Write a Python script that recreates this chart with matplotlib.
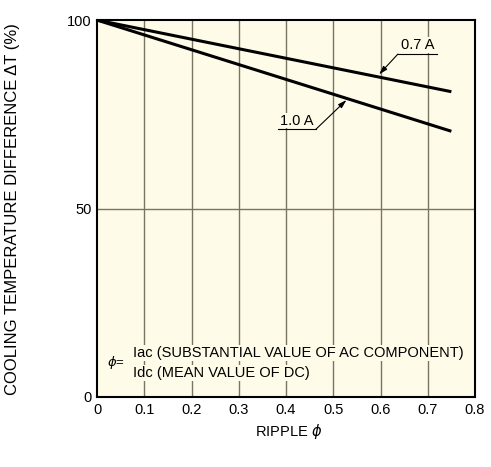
import matplotlib.pyplot as plt

plt.rcParams['font.family'] = ['Liberation Sans', 'DejaVu Sans']

# values
ripple = [0.0, 0.75]
dt_07a = [100, 81]
dt_10a = [100, 70.5]
x_ticks = [0, 0.1, 0.2, 0.3, 0.4, 0.5, 0.6, 0.7, 0.8]
x_tick_labels = ['0', '0.1', '0.2', '0.3', '0.4', '0.5', '0.6', '0.7', '0.8']
y_ticks = [0, 50, 100]

BG = '#fefbe8'
GRID = '#7a7560'

fig = plt.figure(figsize=(4.91, 4.67), dpi=100)
ax = fig.add_axes([0.1976, 0.1499, 0.7698, 0.8071])
ax.set_facecolor(BG)

for x in x_ticks[1:-1]:
    ax.axvline(x, color=GRID, lw=1.0, zorder=1)
ax.axhline(50, color=GRID, lw=1.0, zorder=1)

ax.plot(ripple, dt_07a, color='black', lw=2.2, zorder=3, solid_capstyle='butt')
ax.plot(ripple, dt_10a, color='black', lw=2.2, zorder=3, solid_capstyle='butt')

# callout labels
ax.plot([0.637, 0.72], [91, 91], color='black', lw=0.8, zorder=4)
ax.annotate('', xy=(0.597, 85.6), xytext=(0.637, 91),
            arrowprops=dict(arrowstyle='-|>,head_length=0.5,head_width=0.15',
                            color='black', lw=0.8, shrinkA=0, shrinkB=0), zorder=4)
ax.text(0.679, 91.5, '0.7 A', ha='center', va='bottom', fontsize=10.5, zorder=5,
        bbox=dict(facecolor=BG, edgecolor='none', pad=0.5))

ax.plot([0.383, 0.463], [71, 71], color='black', lw=0.8, zorder=4)
ax.annotate('', xy=(0.528, 78.8), xytext=(0.463, 71),
            arrowprops=dict(arrowstyle='-|>,head_length=0.5,head_width=0.15',
                            color='black', lw=0.8, shrinkA=0, shrinkB=0), zorder=4)
ax.text(0.423, 71.5, '1.0 A', ha='center', va='bottom', fontsize=10.5, zorder=5,
        bbox=dict(facecolor=BG, edgecolor='none', pad=0.5))

# formula
ax.text(0.022, 9.2, r'$\phi$=', ha='left', va='center', fontsize=9.5, zorder=5)
ax.text(0.077, 11.7, 'Iac (SUBSTANTIAL VALUE OF AC COMPONENT)', ha='left', va='center',
        fontsize=10.5, zorder=5, bbox=dict(facecolor=BG, edgecolor='none', pad=0.5))
ax.text(0.077, 6.4, 'Idc (MEAN VALUE OF DC)', ha='left', va='center',
        fontsize=10.5, zorder=5, bbox=dict(facecolor=BG, edgecolor='none', pad=0.5))

ax.set_xlim(0, 0.8)
ax.set_ylim(0, 100)
ax.set_xticks(x_ticks)
ax.set_xticklabels(x_tick_labels)
ax.set_yticks(y_ticks)
ax.tick_params(length=0, labelsize=10.5, pad=4)
for s in ax.spines.values():
    s.set_linewidth(1.5)
    s.set_color('black')

fig.text(0.587, 0.075, r'RIPPLE $\phi$', ha='center', va='center', fontsize=10.5)
fig.text(0.026, 0.553, 'COOLING TEMPERATURE DIFFERENCE ΔT (%)', ha='center', va='center',
         rotation=90, fontsize=12)

fig.savefig('out.png', dpi=100)
